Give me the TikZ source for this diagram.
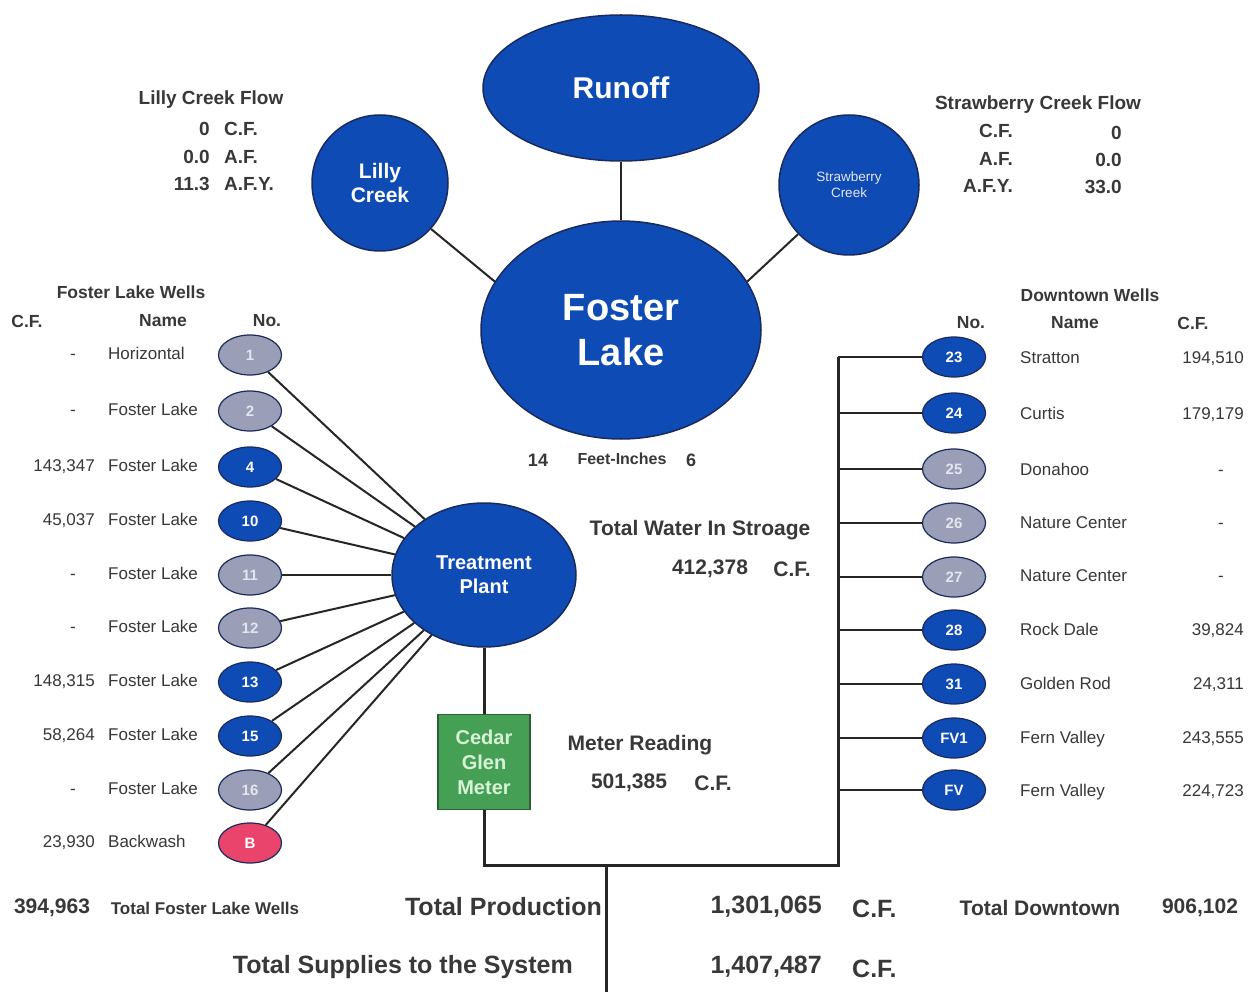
\documentclass[tikz,border=0pt]{standalone}
\usepackage{fontspec}
\setmainfont{Liberation Sans}
\usetikzlibrary{shapes.geometric}
\definecolor{blu}{HTML}{0F4BB4}
\definecolor{navy}{HTML}{1B2A5C}
\definecolor{gry}{HTML}{9A9EB6}
\definecolor{gtxt}{HTML}{E4E6EE}
\definecolor{pnk}{HTML}{E9456C}
\definecolor{grn}{HTML}{45A055}
\definecolor{grnd}{HTML}{2E5F33}
\definecolor{grntxt}{HTML}{D8F2D8}
\definecolor{txt}{HTML}{383838}
\definecolor{lnk}{HTML}{262626}
\newcommand{\fB}[2]{\fontsize{#1}{#2}\selectfont\bfseries}
\newcommand{\fR}[2]{\fontsize{#1}{#2}\selectfont}
\tikzset{
  big/.style={ellipse, draw=navy, line width=1.5pt, fill=blu, text=white, inner sep=0pt, align=center},
  well/.style={ellipse, draw=navy, line width=1.2pt, minimum width=63pt, minimum height=40pt, inner sep=0pt, font=\fB{15}{17}},
  wb/.style={well, fill=blu, text=white},
  wg/.style={well, fill=gry, text=gtxt},
  wp/.style={well, fill=pnk, text=white},
  lbl/.style={text=txt, inner sep=0pt},
  bl/.style={lbl, font=\fB{17.5}{19}},
  rl/.style={lbl, font=\fR{17}{19}, text height=12.5pt, text depth=3.5pt},
  fl/.style={lbl, font=\fB{21}{23}},
  md/.style={lbl, font=\fB{21}{24}},
  lg/.style={lbl, font=\fB{25}{28}},
  link/.style={draw=lnk, line width=2pt},
  trunk/.style={draw=lnk, line width=3pt}
}
\begin{document}
\begin{tikzpicture}[x=1pt, y=-1pt]
\useasboundingbox (0,0) rectangle (1258,992);
\fill[white] (0,0) rectangle (1258,992);

% main ellipses
\node[big, minimum width=276pt, minimum height=146pt, font=\fB{30}{34}] (ro) at (621,88) {Runoff};
\node[big, minimum width=136pt, minimum height=136pt, font=\fB{21}{24}] (lc) at (380,183) {Lilly\\Creek};
\node[big, minimum width=140pt, minimum height=140pt, font=\fR{13.5}{16}, text=gtxt] (sc) at (849,185) {Strawberry\\Creek};
\node[big, minimum width=280pt, minimum height=218pt, font=\fB{38}{45}] (fk) at (621,330) {Foster\\Lake};
\node[big, minimum width=184pt, minimum height=144pt, font=\fB{20}{24}] (tp) at (484,575) {Treatment\\Plant};
\node[rectangle, draw=grnd, line width=1.2pt, fill=grn, text=grntxt, minimum width=92pt, minimum height=95pt, inner sep=0pt, align=center, font=\fB{20}{25}] (cm) at (484,762) {Cedar\\Glen\\Meter};

\draw[link] (ro.south) -- (fk.north);
\draw[link] (lc.-42) -- (fk.159);
\draw[link] (sc.-136) -- (fk.21);
\draw[trunk] (tp.south) -- (cm.north);

% flows
\node[lbl, font=\fB{19}{22}] (lcfh) at (211,100) {Lilly Creek Flow};
\node[lbl, font=\fB{19}{22}, anchor=east] (lv1) at (210,129) {0};
\node[lbl, font=\fB{19}{22}, anchor=west] (lu1) at (224,129) {C.F.};
\node[lbl, font=\fB{19}{22}, anchor=east] (lv2) at (210,157) {0.0};
\node[lbl, font=\fB{19}{22}, anchor=west] (lu2) at (224,157) {A.F.};
\node[lbl, font=\fB{19}{22}, anchor=east] (lv3) at (210,184) {11.3};
\node[lbl, font=\fB{19}{22}, anchor=west] (lu3) at (224,184) {A.F.Y.};

\node[lbl, font=\fB{19}{22}] (scfh) at (1038,105) {Strawberry Creek Flow};
\node[lbl, font=\fB{19}{22}, anchor=east] (su1) at (1013,131) {C.F.};
\node[lbl, font=\fB{19}{22}, anchor=east] (sv1) at (1122,133) {0};
\node[lbl, font=\fB{19}{22}, anchor=east] (su2) at (1013,159) {A.F.};
\node[lbl, font=\fB{19}{22}, anchor=east] (sv2) at (1122,160) {0.0};
\node[lbl, font=\fB{19}{22}, anchor=east] (su3) at (1013,186) {A.F.Y.};
\node[lbl, font=\fB{19}{22}, anchor=east] (sv3) at (1122,187) {33.0};

% left wells
\node[bl] (lwh) at (131,292) {Foster Lake Wells};
\node[bl] (lh1) at (27,321) {C.F.};
\node[bl] (lh2) at (163,321) {Name};
\node[bl] (lh3) at (267,321) {No.};

\node[wg] (w1) at (250,355) {1};
\node[wg] (w2) at (250,411) {2};
\node[wb] (w4) at (250,467) {4};
\node[wb] (w10) at (250,521) {10};
\node[wg] (w11) at (250,575) {11};
\node[wg] (w12) at (250,628) {12};
\node[wb] (w13) at (250,682) {13};
\node[wb] (w15) at (250,736) {15};
\node[wg] (w16) at (250,790) {16};
\node[wp] (wB) at (250,843) {B};

\node[rl] (c1) at (73,355) {-};
\node[rl] (c2) at (73,411) {-};
\node[rl, anchor=east] (c4) at (95,467) {143,347};
\node[rl, anchor=east] (c10) at (95,521) {45,037};
\node[rl] (c11) at (73,575) {-};
\node[rl] (c12) at (73,628) {-};
\node[rl, anchor=east] (c13) at (95,682) {148,315};
\node[rl, anchor=east] (c15) at (95,736) {58,264};
\node[rl] (c16) at (73,790) {-};
\node[rl, anchor=east] (cB) at (95,843) {23,930};

\node[rl, anchor=west] (n1) at (108,355) {Horizontal};
\node[rl, anchor=west] (n2) at (108,411) {Foster Lake};
\node[rl, anchor=west] (n4) at (108,467) {Foster Lake};
\node[rl, anchor=west] (n10) at (108,521) {Foster Lake};
\node[rl, anchor=west] (n11) at (108,575) {Foster Lake};
\node[rl, anchor=west] (n12) at (108,628) {Foster Lake};
\node[rl, anchor=west] (n13) at (108,682) {Foster Lake};
\node[rl, anchor=west] (n15) at (108,736) {Foster Lake};
\node[rl, anchor=west] (n16) at (108,790) {Foster Lake};
\node[rl, anchor=west] (nB) at (108,843) {Backwash};

\foreach \w in {w1,w2,w4,w10,w11,w12,w13,w15,w16,wB}
  \draw[link] (\w) -- (tp);

% right wells
\node[bl] (rwh) at (1090,295) {Downtown Wells};
\node[bl] (rh1) at (971,323) {No.};
\node[bl] (rh2) at (1075,323) {Name};
\node[bl] (rh3) at (1193,323) {C.F.};

\node[wb] (w23) at (954,357) {23};
\node[wb] (w24) at (954,413) {24};
\node[wg] (w25) at (954,469) {25};
\node[wg] (w26) at (954,523) {26};
\node[wg] (w27) at (954,577) {27};
\node[wb] (w28) at (954,630) {28};
\node[wb] (w31) at (954,684) {31};
\node[wb] (wFV1) at (954,738) {FV1};
\node[wb] (wFV) at (954,790) {FV};

\node[rl, anchor=west] (m23) at (1020,359) {Stratton};
\node[rl, anchor=west] (m24) at (1020,415) {Curtis};
\node[rl, anchor=west] (m25) at (1020,471) {Donahoo};
\node[rl, anchor=west] (m26) at (1020,524) {Nature Center};
\node[rl, anchor=west] (m27) at (1020,577) {Nature Center};
\node[rl, anchor=west] (m28) at (1020,631) {Rock Dale};
\node[rl, anchor=west] (m31) at (1020,685) {Golden Rod};
\node[rl, anchor=west] (mFV1) at (1020,739) {Fern Valley};
\node[rl, anchor=west] (mFV) at (1020,792) {Fern Valley};

\node[rl, anchor=east] (d23) at (1244,359) {194,510};
\node[rl, anchor=east] (d24) at (1244,415) {179,179};
\node[rl] (d25) at (1221,471) {-};
\node[rl] (d26) at (1221,524) {-};
\node[rl] (d27) at (1221,577) {-};
\node[rl, anchor=east] (d28) at (1244,631) {39,824};
\node[rl, anchor=east] (d31) at (1244,685) {24,311};
\node[rl, anchor=east] (dFV1) at (1244,739) {243,555};
\node[rl, anchor=east] (dFV) at (1244,792) {224,723};

\foreach \w/\y in {w23/357,w24/413,w25/469,w26/523,w27/577,w28/630,w31/684,wFV1/738,wFV/790}{
  \coordinate (t\w) at (838,\y);
  \draw[link] (t\w) -- (\w);
}
\coordinate (jm) at (484,865);
\coordinate (jr) at (838,865);
\coordinate (js) at (606,865);
\coordinate (jb) at (606,992);
\draw[trunk] (cm.south) -- (jm) -- (jr) -- (tw23);
\draw[trunk] (js) -- (jb);

% centre labels
\node[lbl, font=\fB{18}{20}] (fi1) at (538,460) {14};
\node[lbl, font=\fB{16}{18}] (fi2) at (622,459) {Feet-Inches};
\node[lbl, font=\fB{18}{20}] (fi3) at (691,460) {6};

\node[md] (tws) at (700,530) {Total Water In Stroage};
\node[md] (twv) at (710,569) {412,378};
\node[md] (twu) at (792,569) {C.F.};
\node[md] (mrh) at (640,745) {Meter Reading};
\node[md] (mrv) at (629,783) {501,385};
\node[md] (mru) at (713,783) {C.F.};

% bottom
\node[fl] (tfv) at (52,908) {394,963};
\node[lbl, font=\fB{17}{19}] (tfl) at (205,908) {Total Foster Lake Wells};
\node[lg, anchor=east] (tpl) at (602,907) {Total Production};
\node[lg, anchor=east] (tpv) at (822,907) {1,301,065};
\node[lg, anchor=west] (tpu) at (852,909) {C.F.};
\node[fl] (tdl) at (1040,908) {Total Downtown};
\node[fl] (tdv) at (1200,908) {906,102};
\node[lg, anchor=east] (tsl) at (573,967) {Total Supplies to the System};
\node[lg, anchor=east] (tsv) at (822,967) {1,407,487};
\node[lg, anchor=west] (tsu) at (852,969) {C.F.};
\end{tikzpicture}
\end{document}
